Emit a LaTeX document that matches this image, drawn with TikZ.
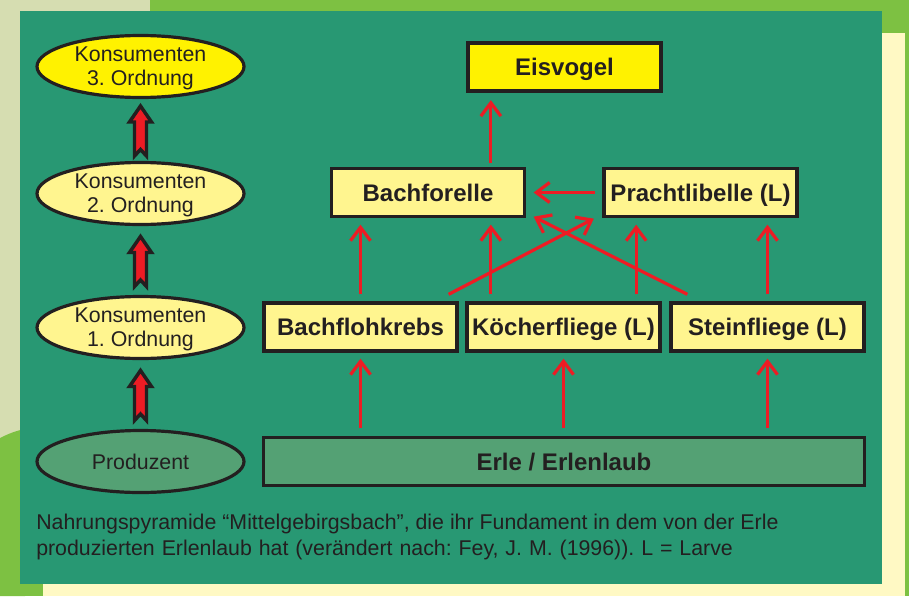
\documentclass[tikz,border=0pt]{standalone}
\usepackage{fontspec}
\setmainfont{Liberation Sans}
\usetikzlibrary{shapes.geometric,arrows.meta,calc}
\frenchspacing
\definecolor{panelteal}{RGB}{40,152,115}
\definecolor{yel}{RGB}{255,242,0}
\definecolor{paleyel}{RGB}{255,245,143}
\definecolor{leafgreen}{RGB}{84,161,116}
\definecolor{ink}{RGB}{35,31,32}
\definecolor{arrred}{RGB}{237,28,36}
\definecolor{lgreen}{RGB}{125,193,66}
\definecolor{cream}{RGB}{255,249,196}
\definecolor{photo}{RGB}{214,221,177}
\tikzset{
  blockarrow/.pic={
    \path[draw=ink, fill=arrred, line width=2.6pt, line join=miter]
      (0,-24) -- (11,-8) -- (6,-8) -- (6,26) -- (0,19.5) -- (-6,26) -- (-6,-8) -- (-11,-8) -- cycle;
  }
}
\begin{document}
\begin{tikzpicture}[x=0.75pt,y=-0.75pt,
  ell/.style={ellipse, draw=ink, line width=2.4pt, minimum width=155.25pt, minimum height=46.5pt,
    inner sep=0pt, align=center, font=\fontsize{16}{18}\selectfont, text=ink},
  twoline/.style={text depth=-2pt},
  box/.style={rectangle, draw=ink, line width=2.5pt, minimum width=144.75pt, minimum height=36pt,
    inner sep=0pt, text height=12.9pt, text depth=0pt,
    font=\bfseries\fontsize{18}{21}\selectfont, text=ink, fill=paleyel},
  redarr/.style={draw=arrred, line width=2.4pt, -{Straight Barb[length=10pt,width=15pt]}},
  uparr/.style={redarr, shorten <=5.25pt, shorten >=4.9pt},
  lowarr/.style={redarr, shorten <=5.6pt, shorten >=4.5pt}
]
\useasboundingbox (0,0) rectangle (909,596);
% background
\fill[photo] (0,0) rectangle (909,596);
\fill[lgreen] (0,438) .. controls (8,434) and (15,431) .. (25,429) -- (25,596) -- (0,596) -- cycle;
\fill[lgreen] (0,584) rectangle (43,596);
\fill[cream] (43,584) rectangle (905,596);
\fill[lgreen] (150,0) rectangle (909,11);
\fill[lgreen] (882,0) rectangle (909,33);
\fill[lgreen] (905,0) rectangle (909,596);
\fill[cream] (882,33) rectangle (905,596);
\fill[panelteal] (20,11) rectangle (882,584);

% left column
\node[ell, twoline, fill=yel] (k3) at (140.5,66.5) {Konsumenten\\3. Ordnung};
\node[ell, twoline, fill=paleyel] (k2) at (140.5,193.5) {Konsumenten\\2. Ordnung};
\node[ell, twoline, fill=paleyel] (k1) at (140.5,327.5) {Konsumenten\\1. Ordnung};
\node[ell, fill=leafgreen] (prod) at (140.5,461.5) {Produzent};
\pic at ($(k3.south)!0.5!(k2.north)$) {blockarrow};
\pic at ($(k2.south)!0.5!(k1.north)$) {blockarrow};
\pic at ($(k1.south)!0.5!(prod.north)$) {blockarrow};

% food web
\node[box, fill=yel] (eis) at (564.5,67) {Eisvogel};
\node[box] (bf) at (428,192.5) {Bachforelle};
\node[box] (pl) at (700.5,192.5) {Prachtlibelle (L)};
\node[box] (bfk) at (360.5,327) {Bachflohkrebs};
\node[box] (kf) at (563.5,327) {Köcherfliege (L)};
\node[box] (sf) at (767.5,327) {Steinfliege (L)};
\node[box, fill=leafgreen, minimum width=450.75pt] (erle) at (564,461.5) {Erle / Erlenlaub};

\coordinate (c1) at ($(kf.north west)+(25.5,0)$);
\coordinate (c2) at ($(kf.north east)+(-25.5,0)$);

\draw[lowarr] (erle.north -| bfk.south) -- (bfk.south);
\draw[lowarr] (erle.north -| kf.south) -- (kf.south);
\draw[lowarr] (erle.north -| sf.south) -- (sf.south);

\draw[uparr] (bfk.north) -- (bfk.north |- bf.south);
\draw[uparr] (c1) -- (c1 |- bf.south);
\draw[uparr] (c2) -- (c2 |- pl.south);
\draw[uparr] (sf.north) -- (sf.north |- pl.south);
\draw[redarr] ($(bfk.north east)+(-10,-7)$) -- ($(pl.south west)+(-8.5,0.5)$);
\draw[redarr] ($(sf.north west)+(18,-7)$) -- ($(bf.south east)+(7.5,-1.5)$);
\draw[redarr, shorten <=5.6pt, shorten >=5.6pt] (pl.west) -- (bf.east);
\draw[redarr, shorten <=2.6pt, shorten >=5.6pt] (c1 |- bf.north) -- (c1 |- eis.south);

% caption
\node[anchor=base west, align=left, inner sep=0pt, font=\fontsize{16}{19.5}\selectfont, text=ink] (cap) at (36,555)
  {Nahrungspyramide “Mittelgebirgsbach”, die ihr Fundament in dem von der Erle\\{\spaceskip=0.325em plus 0pt minus 0pt produzierten Erlenlaub hat (verändert nach: Fey, J. M. (1996)). L = Larve}};
\end{tikzpicture}
\end{document}
